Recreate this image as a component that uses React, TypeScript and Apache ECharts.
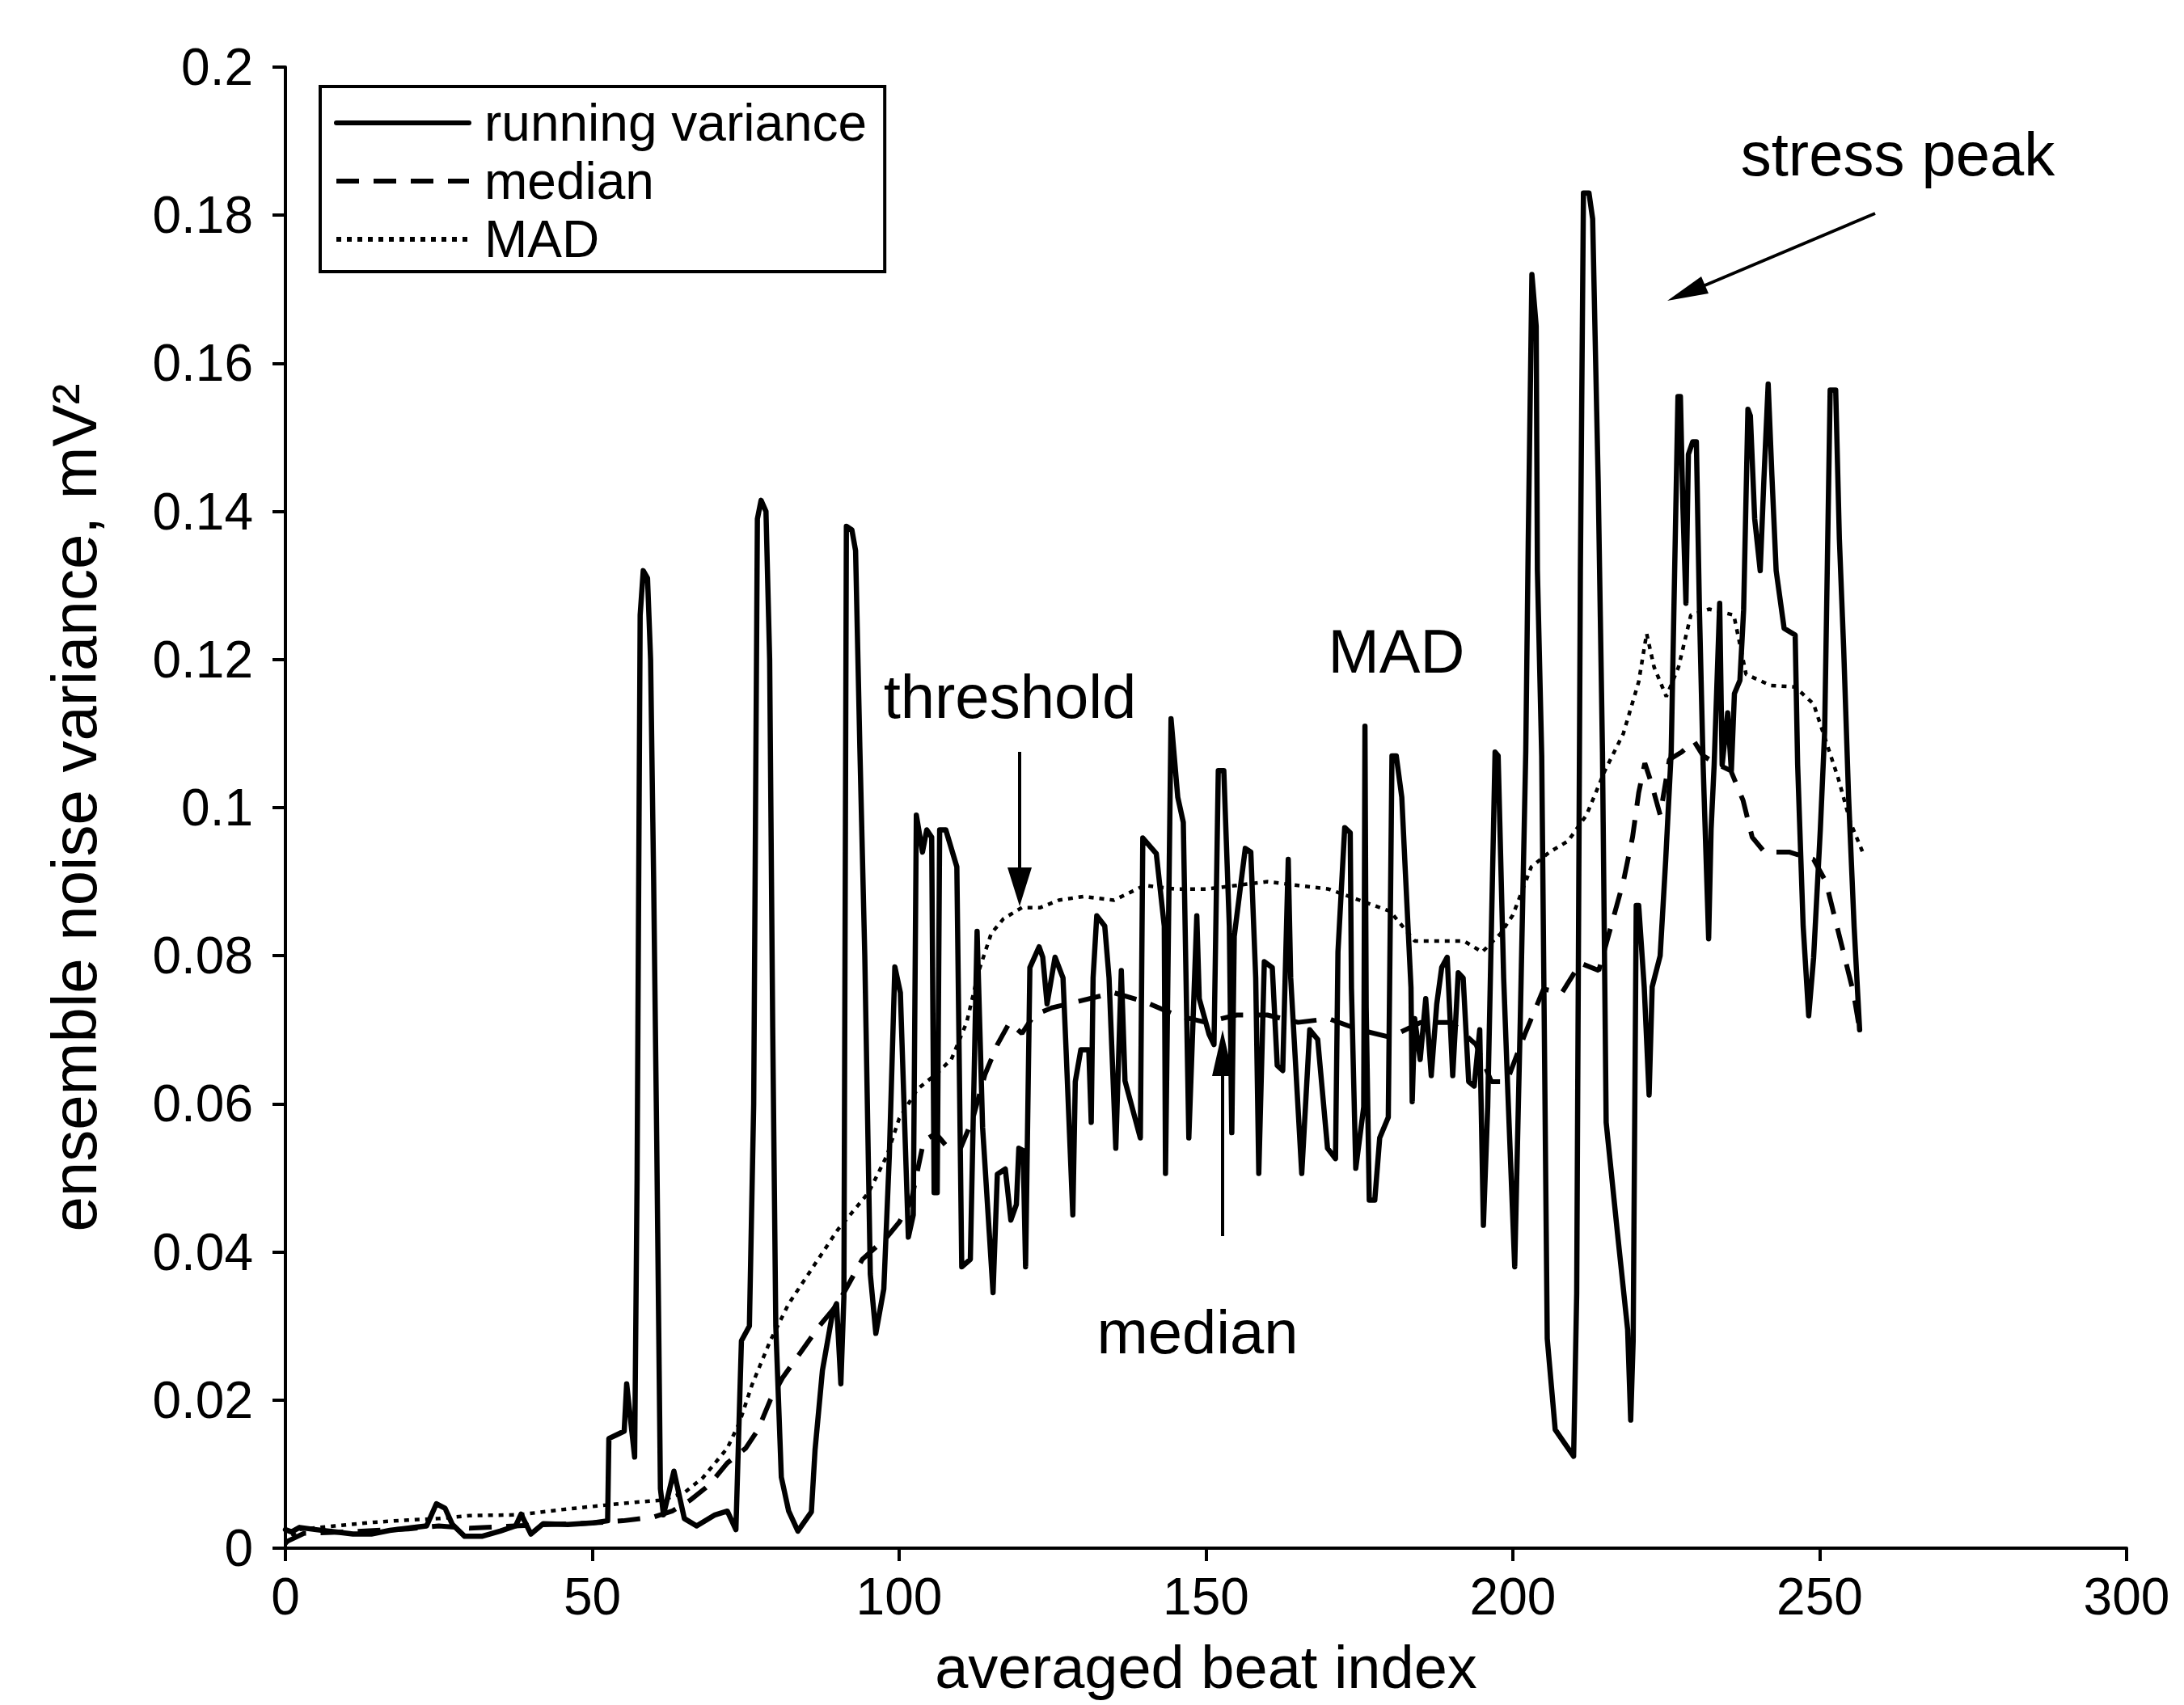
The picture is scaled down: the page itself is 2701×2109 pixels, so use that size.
import React, { useEffect, useRef } from "react";
import * as echarts from "echarts";

// ---------- data ----------
const runningVarianceBeat = [
  0, 1, 2.3, 5, 8, 11, 14, 17, 20, 23, 24.6, 26, 27.2, 29.2, 32, 35, 37.5, 38.4, 40, 42, 46, 50, 52.5,
  52.7, 55.2, 55.6, 56.9, 57.3, 57.8, 58.3, 59.0, 59.5, 60.0, 60.5, 61.1, 61.6, 63.3, 65, 67, 70, 72,
  73.4, 74.3, 75.6, 76.3, 76.9, 77.5, 78.3, 78.9, 79.4, 79.9, 80.8, 82, 83.5, 85.7, 86.3, 87.5, 89.2,
  89.8, 90.5, 91.0, 91.4, 92.3, 92.9, 93.6, 94.4, 95.3, 96.2, 97.5, 98.4, 99.3, 100.2, 101.5, 102.3,
  102.8, 103.8, 104.5, 105.3, 105.7, 106.2, 106.6, 107.6, 109.4, 110.2, 111.6, 112.7, 113.6, 115.3,
  116.0, 117.3, 118.2, 119.1, 119.5, 120.2, 120.6, 121.3, 122.8, 123.4, 124.1, 125.4, 126.7, 127.2,
  128.3, 128.7, 129.6, 130.9, 131.3, 131.6, 132.2, 133.5, 134.2, 135.3, 136.2, 136.8, 139.3, 139.7,
  141.9, 143.2, 143.4, 144.3, 145.4, 146.3, 147.2, 148.5, 148.9, 150.5, 151.3, 152, 152.9, 153.8, 154.2,
  154.6, 156.4, 157.3, 158.1, 158.6, 159.5, 160.8, 161.6, 162.5, 163.4, 163.8, 165.6, 166.9, 168.2,
  169.8, 171.1, 171.5, 172.6, 173.5, 173.7, 174.4, 175.7, 175.9, 176.1, 176.6, 177.5, 178.3, 179.7,
  180.3, 181, 181.9, 182.5, 183.4, 183.6, 184.0, 184.9, 185.8, 186.7, 187.6, 188.4, 189.3, 190.2, 191.1,
  191.9, 192.8, 193.7, 194.6, 195.2, 195.9, 197.1, 197.6, 198.5, 199.2, 200.3, 201.2, 202.1, 202.5,
  203.1, 203.8, 204, 204.7, 205.6, 206.9, 209.9, 210.4, 211.0, 211.5, 212.4, 213, 213.9, 214.6, 215.2,
  217, 218.7, 219.2, 219.6, 220.1, 220.5, 221.4, 222.2, 222.7, 224, 224.9, 225.8, 226.2, 226.9, 227.3,
  227.7, 228.2, 228.6, 229.3, 229.9, 230.4, 231, 231.9, 232.3, 232.8, 233.7, 234.1, 235, 235.6, 236.1,
  237, 237.6, 238.3, 238.7, 239.4, 240.3, 240.9, 241.6, 242.2, 242.9, 244.2, 246, 246.4, 247.3, 248.2,
  249, 250.1, 250.8, 251.7, 252.6, 253.2, 253.9, 254.7, 255.6, 256.5,
];
const runningVarianceValue = [
  0.0025, 0.0022, 0.0028, 0.0025, 0.0022, 0.0019, 0.0019, 0.0024, 0.0027, 0.003, 0.006, 0.0054, 0.0032,
  0.0016, 0.0016, 0.0023, 0.003, 0.0046, 0.0019, 0.0033, 0.0032, 0.0034, 0.0037,
  0.0148, 0.0158, 0.0222, 0.0123, 0.05, 0.126, 0.132, 0.131, 0.12, 0.09, 0.055, 0.008, 0.0045, 0.0104,
  0.004, 0.003, 0.0045, 0.005,
  0.0025, 0.028, 0.03, 0.06, 0.139, 0.1415, 0.14, 0.12, 0.07, 0.03, 0.0096, 0.005, 0.0023, 0.0049, 0.0133,
  0.024, 0.032,
  0.033, 0.0222, 0.034, 0.138, 0.1375, 0.1347, 0.108, 0.08, 0.037, 0.029, 0.035, 0.053, 0.0785, 0.075,
  0.042, 0.045,
  0.099, 0.094, 0.097, 0.096, 0.048, 0.048, 0.097, 0.097, 0.092, 0.038, 0.039, 0.0833, 0.0568, 0.0345,
  0.0505, 0.0512, 0.0443, 0.0464, 0.054, 0.0537, 0.038, 0.0784, 0.0812, 0.0798, 0.0735, 0.0798, 0.077,
  0.0673,
  0.045, 0.063, 0.0673, 0.0673, 0.0575, 0.077, 0.0854, 0.084, 0.077, 0.054, 0.078, 0.0631, 0.0554, 0.0959,
  0.0938, 0.084, 0.0506, 0.112, 0.1014, 0.098, 0.0554, 0.0854, 0.0742, 0.0694, 0.068, 0.105, 0.105, 0.084,
  0.0561,
  0.0826, 0.0945, 0.094, 0.077, 0.0506, 0.0792, 0.0784, 0.0652, 0.0645, 0.093, 0.077, 0.0506, 0.07, 0.0687,
  0.054, 0.0526, 0.0805, 0.0973, 0.0966, 0.0756, 0.0513, 0.0596, 0.111, 0.073, 0.047, 0.047, 0.0554, 0.0582,
  0.107, 0.107, 0.1014, 0.091, 0.0757, 0.0603, 0.0715, 0.066, 0.0742, 0.0638, 0.0735, 0.0784, 0.0798,
  0.0638, 0.0777,
  0.077, 0.063, 0.0624, 0.07, 0.0436, 0.0596, 0.1075, 0.107, 0.077, 0.0612, 0.038, 0.071, 0.1075, 0.1356,
  0.172, 0.165, 0.132, 0.107, 0.0283, 0.016, 0.0124, 0.0344, 0.132, 0.183, 0.183, 0.1795, 0.144, 0.1075,
  0.0575,
  0.0429, 0.0295, 0.0173, 0.028, 0.0868, 0.0868, 0.0758, 0.0612, 0.0758, 0.08, 0.0929, 0.1075, 0.125,
  0.1555, 0.1555,
  0.1407, 0.1276, 0.1477, 0.1494, 0.1494, 0.1267, 0.1058, 0.0823, 0.0971, 0.1058, 0.1276, 0.1058, 0.1128,
  0.105, 0.1154,
  0.1172, 0.1267, 0.1538, 0.1529, 0.139, 0.132, 0.1442, 0.1572, 0.145, 0.132, 0.1242, 0.1233, 0.1058,
  0.084, 0.0719,
  0.0797, 0.0971, 0.1102, 0.1564, 0.1564, 0.1363, 0.1215, 0.1015, 0.084, 0.07,
];

const medianBeat = [
  0, 3, 10, 20, 25, 30, 40, 50, 55, 60, 63, 66, 69, 72, 75, 77, 79, 81, 84, 87, 90, 94, 98, 100, 102, 104,
  106, 108, 110, 112, 114, 116, 118, 120, 122, 125, 130, 135, 140, 145, 150, 155, 160, 165, 170, 175, 180,
  185, 190, 194, 196.5, 199, 202, 205, 208, 211, 214, 216, 218, 219.5, 220.5, 221.5, 222.5, 224, 225.5,
  227.5, 229.5, 231, 233, 235.5, 237.5, 239, 241, 245, 249, 251, 252.5, 254, 255.5, 256.5,
];
const medianValue = [
  0.0008, 0.002, 0.0022, 0.0026, 0.003, 0.0027, 0.0031, 0.0034, 0.0037, 0.0042, 0.005, 0.0065, 0.0085,
  0.0115, 0.0135, 0.016, 0.02, 0.023, 0.0265, 0.03, 0.033, 0.039, 0.042, 0.044, 0.047, 0.055, 0.056, 0.054,
  0.054, 0.058, 0.064, 0.068, 0.071, 0.0695, 0.072, 0.073, 0.074, 0.075, 0.0738, 0.072, 0.071, 0.072,
  0.072, 0.071, 0.0715, 0.07, 0.069, 0.071, 0.071, 0.068, 0.063, 0.063, 0.0695, 0.0755, 0.075, 0.079,
  0.078, 0.084, 0.09, 0.096, 0.102, 0.106, 0.1035, 0.099, 0.1065, 0.1075, 0.109, 0.107, 0.106, 0.105,
  0.101, 0.096, 0.094, 0.094, 0.093, 0.09, 0.085, 0.08, 0.075, 0.07,
];

const madBeat = [
  0, 2, 8, 14.4, 20, 25, 30, 38, 45, 52, 57, 61.5, 65, 68, 72, 74, 76, 79, 82, 86, 90, 95, 98, 100, 103,
  106, 108.5, 111, 113, 115, 117, 120, 123, 126, 130, 135, 140, 145, 150, 155, 160, 165, 170, 175, 180,
  184, 188, 192, 195, 198, 200, 203, 206, 209, 212, 215, 218, 220.5, 221.8, 223, 225, 227, 229, 232, 236,
  238, 242, 246, 249, 251, 253, 255, 257,
];
const madValue = [
  0.0005, 0.0025, 0.003, 0.0035, 0.0038, 0.004, 0.0044, 0.0045, 0.0052, 0.0058, 0.0062, 0.0065, 0.0075,
  0.0095, 0.0135, 0.017, 0.022, 0.028, 0.033, 0.038, 0.043, 0.048, 0.053, 0.058, 0.062, 0.064, 0.066,
  0.071, 0.078, 0.083, 0.085, 0.0865, 0.0865, 0.0875, 0.088, 0.0875, 0.0895, 0.089, 0.089, 0.0895, 0.09,
  0.0895, 0.089, 0.0875, 0.086, 0.082, 0.082, 0.082, 0.0805, 0.083, 0.0855, 0.092, 0.094, 0.0955, 0.099,
  0.105, 0.11, 0.117, 0.1235, 0.119, 0.115, 0.119, 0.126, 0.1268, 0.126, 0.118, 0.1165, 0.1163, 0.114,
  0.109, 0.104, 0.098, 0.094,
];

const seriesNames = ["running variance", "median", "MAD"];
const xRange = { min: 0, max: 300, interval: 50 };
const yRange = { min: 0, max: 0.2, interval: 0.02 };
const axisTitles = { x: "averaged beat index", y: "ensemble noise variance, mV\u00B2" };
const annotationTexts = { threshold: "threshold", mad: "MAD", median: "median", stress: "stress peak" };

const pairs = (xs: number[], ys: number[]) => xs.map((x, i) => [x, ys[i]]);

const FONT = "'Liberation Sans', Arial, Helvetica, sans-serif";

export default function App() {
  const ref = useRef<HTMLDivElement>(null);

  useEffect(() => {
    if (!ref.current) return;
    const chart = echarts.init(ref.current, null, { renderer: "svg" });

    const textStyle = (s: number) => ({ fill: "#000", fontSize: s, fontFamily: FONT });

    const option: any = {
      animation: false,
      backgroundColor: "#fff",
      textStyle: { fontFamily: FONT, color: "#000" },
      grid: { left: 353, right: 71, top: 83, bottom: 194, containLabel: false, outerBoundsMode: "none" },
      legend: {
        orient: "vertical",
        left: 396,
        top: 107,
        data: seriesNames,
        selectedMode: false,
        padding: [13, 22, 8, 17],
        borderColor: "#000",
        borderWidth: 4,
        backgroundColor: "#fff",
        itemWidth: 164,
        itemHeight: 24,
        itemGap: 8,
        itemStyle: { opacity: 0, borderWidth: 0 },
        lineStyle: { width: 6 },
        textStyle: { fontSize: 64, color: "#000", lineHeight: 64, fontFamily: FONT, padding: [0, 0, 0, 14] },
      },
      xAxis: {
        type: "value",
        min: xRange.min,
        max: xRange.max,
        interval: xRange.interval,
        name: axisTitles.x,
        nameLocation: "middle",
        nameGap: 106,
        nameTextStyle: { fontSize: 74, color: "#000", fontFamily: FONT, lineHeight: 82 },
        axisLine: { show: true, lineStyle: { color: "#000", width: 4 } },
        axisTick: { show: true, inside: false, length: 16, lineStyle: { color: "#000", width: 4 } },
        axisLabel: { fontSize: 64, color: "#000", margin: 28, fontFamily: FONT },
        splitLine: { show: false },
      },
      yAxis: {
        type: "value",
        min: yRange.min,
        max: yRange.max,
        interval: yRange.interval,
        name: axisTitles.y,
        nameLocation: "middle",
        nameGap: 222,
        nameRotate: 90,
        nameTextStyle: { fontSize: 78, color: "#000", fontFamily: FONT },
        axisLine: { show: true, lineStyle: { color: "#000", width: 4 } },
        axisTick: { show: true, inside: false, length: 16, lineStyle: { color: "#000", width: 4 } },
        axisLabel: {
          fontSize: 64,
          color: "#000",
          margin: 40,
          fontFamily: FONT,
          formatter: (v: number) => (v === 0 ? "0" : String(+v.toFixed(2))),
        },
        splitLine: { show: false },
      },
      series: [
        {
          name: seriesNames[2],
          type: "line",
          data: pairs(madBeat, madValue),
          symbol: "none",
          showSymbol: false,
          z: 2,
          lineStyle: { color: "#000", width: 4.5, type: [6, 7] },
          itemStyle: { color: "#000" },
        },
        {
          name: seriesNames[1],
          type: "line",
          data: pairs(medianBeat, medianValue),
          symbol: "none",
          showSymbol: false,
          z: 3,
          lineStyle: { color: "#000", width: 6, type: [28, 18] },
          itemStyle: { color: "#000" },
        },
        {
          name: seriesNames[0],
          type: "line",
          data: pairs(runningVarianceBeat, runningVarianceValue),
          symbol: "none",
          showSymbol: false,
          z: 4,
          lineStyle: { color: "#000", width: 6.5, join: "round", cap: "round" },
          itemStyle: { color: "#000" },
        },
      ],
      graphic: [
        { type: "text", x: 1249, y: 861, style: { ...textStyle(76), text: annotationTexts.threshold, align: "center", verticalAlign: "middle" } },
        { type: "line", shape: { x1: 1261, y1: 930, x2: 1261, y2: 1080 }, style: { stroke: "#000", lineWidth: 4 } },
        { type: "polygon", shape: { points: [[1246, 1073], [1276, 1073], [1261, 1121]] }, style: { fill: "#000" } },
        { type: "text", x: 1727, y: 805, style: { ...textStyle(76), text: annotationTexts.mad, align: "center", verticalAlign: "middle" } },
        { type: "text", x: 1481, y: 1647, style: { ...textStyle(76), text: annotationTexts.median, align: "center", verticalAlign: "middle" } },
        { type: "line", shape: { x1: 1512, y1: 1529, x2: 1512, y2: 1320 }, style: { stroke: "#000", lineWidth: 4 } },
        { type: "polygon", shape: { points: [[1499, 1331], [1525, 1331], [1512, 1274]] }, style: { fill: "#000" } },
        { type: "text", x: 2347, y: 190, style: { ...textStyle(76), text: annotationTexts.stress, align: "center", verticalAlign: "middle" } },
        { type: "line", shape: { x1: 2319, y1: 264, x2: 2106, y2: 354 }, style: { stroke: "#000", lineWidth: 4 } },
        { type: "polygon", shape: { points: [[2062, 372], [2113, 363], [2104, 342]] }, style: { fill: "#000" } },
      ],
    };

    chart.setOption(option);
    return () => chart.dispose();
  }, []);

  return (
    <div
      ref={ref}
      style={{ position: "fixed", left: 0, top: 0, width: 2701, height: 2109, background: "#fff" }}
    />
  );
}
